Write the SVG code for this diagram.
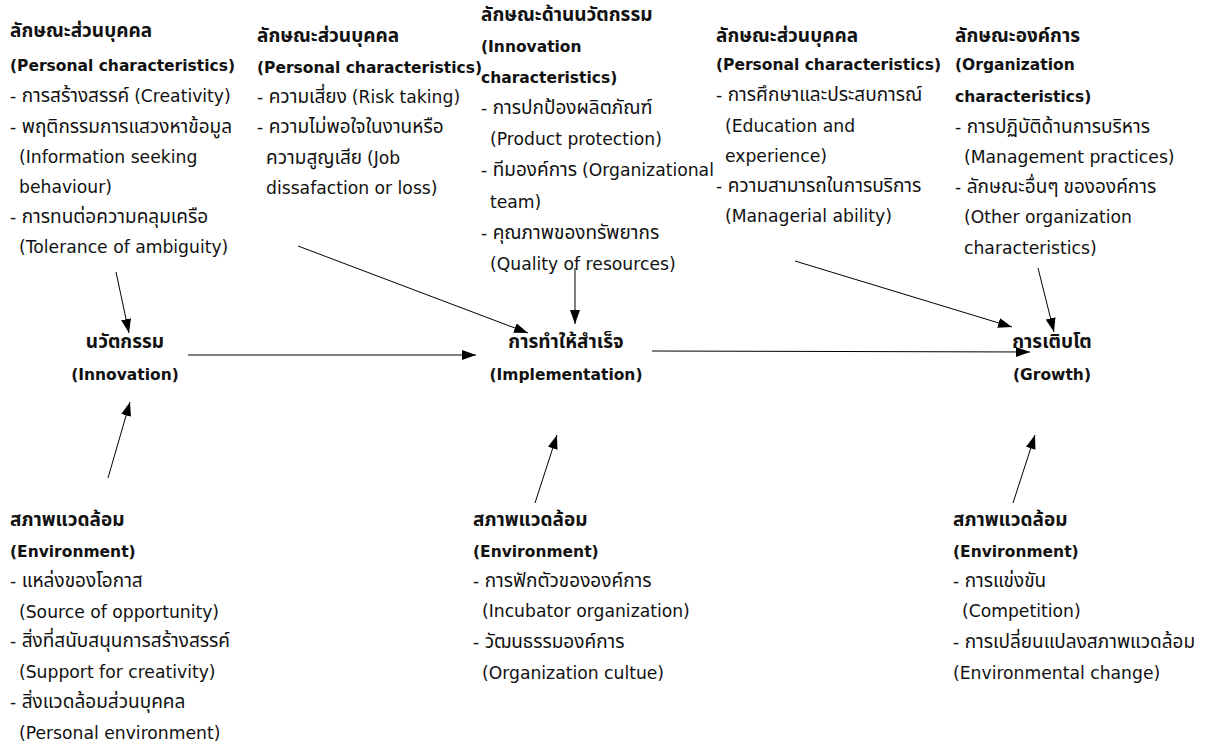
<svg xmlns="http://www.w3.org/2000/svg" width="1214" height="746" viewBox="0 0 1214 746">
<defs>
<marker id="ah" markerWidth="14" markerHeight="10" refX="14" refY="5" orient="auto" markerUnits="userSpaceOnUse"><path d="M0,0 L14,5 L0,10 Z" fill="#000"/></marker>
<style>
text{font-family:"DejaVu Sans","Noto Sans Thai","Noto Sans",sans-serif;font-size:17.2px;fill:#111}
.b{font-weight:bold;font-size:15.5px}
.c{text-anchor:middle}
.t{font-family:"Noto Sans Thai","DejaVu Sans",sans-serif;font-size:19px}
line{stroke:#000;stroke-width:1;marker-end:url(#ah)}
</style>
</defs>
<rect width="1214" height="746" fill="#fff"/>
<g id="p1">
<text x="10" y="37" class="b"><tspan class="t">ลักษณะส่วนบุคคล</tspan></text>
<text x="10" y="71" class="b">(Personal characteristics)</text>
<text x="10" y="102">- <tspan class="t">การสร้างสรรค์ </tspan>(Creativity)</text>
<text x="10" y="133">- <tspan class="t">พฤติกรรมการแสวงหาข้อมูล</tspan></text>
<text x="19" y="163">(Information seeking</text>
<text x="19" y="193">behaviour)</text>
<text x="10" y="223">- <tspan class="t">การทนต่อความคลุมเครือ</tspan></text>
<text x="19" y="253">(Tolerance of ambiguity)</text>
</g>
<g id="p2">
<text x="257" y="42" class="b"><tspan class="t">ลักษณะส่วนบุคคล</tspan></text>
<text x="257" y="73" class="b">(Personal characteristics)</text>
<text x="257" y="103">- <tspan class="t">ความเสี่ยง </tspan>(Risk taking)</text>
<text x="257" y="133">- <tspan class="t">ความไม่พอใจในงานหรือ</tspan></text>
<text x="266" y="164"><tspan class="t">ความสูญเสีย </tspan>(Job</text>
<text x="266" y="194">dissafaction or loss)</text>
</g>
<g id="p3">
<text x="481" y="21" class="b"><tspan class="t">ลักษณะด้านนวัตกรรม</tspan></text>
<text x="481" y="52" class="b">(Innovation</text>
<text x="481" y="83" class="b">characteristics)</text>
<text x="481" y="114">- <tspan class="t">การปกป้องผลิตภัณฑ์</tspan></text>
<text x="490" y="145">(Product protection)</text>
<text x="481" y="176">- <tspan class="t">ทีมองค์การ </tspan>(Organizational</text>
<text x="490" y="208">team)</text>
<text x="481" y="239">- <tspan class="t">คุณภาพของทรัพยากร</tspan></text>
<text x="490" y="270">(Quality of resources)</text>
</g>
<g id="p4">
<text x="716" y="42" class="b"><tspan class="t">ลักษณะส่วนบุคคล</tspan></text>
<text x="716" y="70" class="b">(Personal characteristics)</text>
<text x="716" y="101">- <tspan class="t">การศึกษาและประสบการณ์</tspan></text>
<text x="725" y="132">(Education and</text>
<text x="725" y="162">experience)</text>
<text x="716" y="192">- <tspan class="t">ความสามารถในการบริการ</tspan></text>
<text x="725" y="222">(Managerial ability)</text>
</g>
<g id="p5">
<text x="955" y="42" class="b"><tspan class="t">ลักษณะองค์การ</tspan></text>
<text x="955" y="70" class="b">(Organization</text>
<text x="955" y="102" class="b">characteristics)</text>
<text x="955" y="133">- <tspan class="t">การปฏิบัติด้านการบริหาร</tspan></text>
<text x="964" y="163">(Management practices)</text>
<text x="955" y="193">- <tspan class="t">ลักษณะอื่นๆ ขององค์การ</tspan></text>
<text x="964" y="223">(Other organization</text>
<text x="964" y="254">characteristics)</text>
</g>
<g id="innovation">
<text x="125" y="348" class="b c"><tspan class="t">นวัตกรรม</tspan></text>
<text x="125" y="380" class="b c">(Innovation)</text>
</g>
<g id="implementation">
<text x="566" y="348" class="b c"><tspan class="t">การทำให้สำเร็จ</tspan></text>
<text x="566" y="380" class="b c">(Implementation)</text>
</g>
<g id="growth">
<text x="1052" y="348" class="b c"><tspan class="t">การเติบโต</tspan></text>
<text x="1052" y="380" class="b c">(Growth)</text>
</g>
<g id="e1">
<text x="10" y="526" class="b"><tspan class="t">สภาพแวดล้อม</tspan></text>
<text x="10" y="557" class="b">(Environment)</text>
<text x="10" y="587">- <tspan class="t">แหล่งของโอกาส</tspan></text>
<text x="19" y="618">(Source of opportunity)</text>
<text x="10" y="647">- <tspan class="t">สิ่งที่สนับสนุนการสร้างสรรค์</tspan></text>
<text x="19" y="678">(Support for creativity)</text>
<text x="10" y="708">- <tspan class="t">สิ่งแวดล้อมส่วนบุคคล</tspan></text>
<text x="19" y="739">(Personal environment)</text>
</g>
<g id="e2">
<text x="473" y="526" class="b"><tspan class="t">สภาพแวดล้อม</tspan></text>
<text x="473" y="557" class="b">(Environment)</text>
<text x="473" y="587">- <tspan class="t">การฟักตัวขององค์การ</tspan></text>
<text x="482" y="617">(Incubator organization)</text>
<text x="473" y="648">- <tspan class="t">วัฒนธรรมองค์การ</tspan></text>
<text x="482" y="679">(Organization cultue)</text>
</g>
<g id="e3">
<text x="953" y="526" class="b"><tspan class="t">สภาพแวดล้อม</tspan></text>
<text x="953" y="557" class="b">(Environment)</text>
<text x="953" y="587">- <tspan class="t">การแข่งขัน</tspan></text>
<text x="962" y="617">(Competition)</text>
<text x="953" y="648">- <tspan class="t">การเปลี่ยนแปลงสภาพแวดล้อม</tspan></text>
<text x="953" y="679">(Environmental change)</text>
</g>
<g id="connectors">
<line x1="116" y1="272" x2="129" y2="333"/>
<line x1="298" y1="246" x2="528" y2="333"/>
<line x1="575" y1="268" x2="575" y2="324"/>
<line x1="188" y1="355" x2="476" y2="355"/>
<line x1="652" y1="351" x2="1030" y2="352"/>
<line x1="795" y1="261" x2="1012" y2="327"/>
<line x1="1038" y1="268" x2="1054" y2="332"/>
<line x1="108" y1="478" x2="130" y2="402"/>
<line x1="535" y1="503" x2="557" y2="435"/>
<line x1="1013" y1="503" x2="1035" y2="435"/>
</g>
</svg>
